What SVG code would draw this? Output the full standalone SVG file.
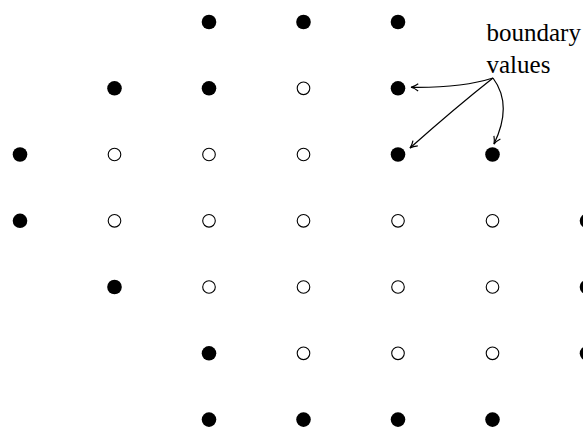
<svg xmlns="http://www.w3.org/2000/svg" width="583" height="430" viewBox="0 0 583 430">
<style>
.f{fill:#000;stroke:none}
.o{fill:#fff;stroke:#000;stroke-width:1.1}
.lbl{font-family:"Liberation Serif","Times New Roman",serif;font-size:25px;fill:#000}
.c{fill:none;stroke:#000;stroke-width:1.2}
</style>
<defs>
<marker id="ah" viewBox="0 0 10 10" refX="9" refY="5" markerWidth="9" markerHeight="9" markerUnits="userSpaceOnUse" orient="auto">
<path d="M1,1 Q5,4 9,5 Q5,6 1,9" fill="none" stroke="#000" stroke-width="1.3"/>
</marker>
<circle id="F" r="7.3" class="f"/>
<circle id="O" r="6.3" class="o"/>
</defs>
<rect width="583" height="430" fill="#fff"/>
<!-- row 0 -->
<g id="n0_2"><use href="#F" x="209" y="22"/></g>
<g id="n0_3"><use href="#F" x="303.5" y="22"/></g>
<g id="n0_4"><use href="#F" x="398" y="22"/></g>
<!-- row 1 -->
<g id="n1_1"><use href="#F" x="114.5" y="88.3"/></g>
<g id="n1_2"><use href="#F" x="209" y="88.3"/></g>
<g id="n1_3"><use href="#O" x="303.5" y="88.3"/></g>
<g id="n1_4"><use href="#F" x="398" y="88.3"/></g>
<!-- row 2 -->
<g id="n2_0"><use href="#F" x="20" y="154.5"/></g>
<g id="n2_1"><use href="#O" x="114.5" y="154.5"/></g>
<g id="n2_2"><use href="#O" x="209" y="154.5"/></g>
<g id="n2_3"><use href="#O" x="303.5" y="154.5"/></g>
<g id="n2_4"><use href="#F" x="398" y="154.5"/></g>
<g id="n2_5"><use href="#F" x="492.5" y="154.5"/></g>
<!-- row 3 -->
<g id="n3_0"><use href="#F" x="20" y="220.8"/></g>
<g id="n3_1"><use href="#O" x="114.5" y="220.8"/></g>
<g id="n3_2"><use href="#O" x="209" y="220.8"/></g>
<g id="n3_3"><use href="#O" x="303.5" y="220.8"/></g>
<g id="n3_4"><use href="#O" x="398" y="220.8"/></g>
<g id="n3_5"><use href="#O" x="492.5" y="220.8"/></g>
<g id="n3_6"><use href="#F" x="587" y="220.8"/></g>
<!-- row 4 -->
<g id="n4_1"><use href="#F" x="114.5" y="287"/></g>
<g id="n4_2"><use href="#O" x="209" y="287"/></g>
<g id="n4_3"><use href="#O" x="303.5" y="287"/></g>
<g id="n4_4"><use href="#O" x="398" y="287"/></g>
<g id="n4_5"><use href="#O" x="492.5" y="287"/></g>
<g id="n4_6"><use href="#F" x="587" y="287"/></g>
<!-- row 5 -->
<g id="n5_2"><use href="#F" x="209" y="353.3"/></g>
<g id="n5_3"><use href="#O" x="303.5" y="353.3"/></g>
<g id="n5_4"><use href="#O" x="398" y="353.3"/></g>
<g id="n5_5"><use href="#O" x="492.5" y="353.3"/></g>
<g id="n5_6"><use href="#F" x="587" y="353.3"/></g>
<!-- row 6 -->
<g id="n6_2"><use href="#F" x="209" y="419.6"/></g>
<g id="n6_3"><use href="#F" x="303.5" y="419.6"/></g>
<g id="n6_4"><use href="#F" x="398" y="419.6"/></g>
<g id="n6_5"><use href="#F" x="492.5" y="419.6"/></g>
<!-- label -->
<g id="label">
<text class="lbl" x="486.5" y="41">boundary</text>
<text class="lbl" x="486.5" y="73">values</text>
</g>
<!-- connectors -->
<g id="connectors">
<path class="c" d="M493,78 Q462,88 411,87.3" marker-end="url(#ah)"/>
<path class="c" d="M493,78 Q455,108 410,148" marker-end="url(#ah)"/>
<path class="c" d="M493,78 Q513,105 494,144" marker-end="url(#ah)"/>
</g>
</svg>
